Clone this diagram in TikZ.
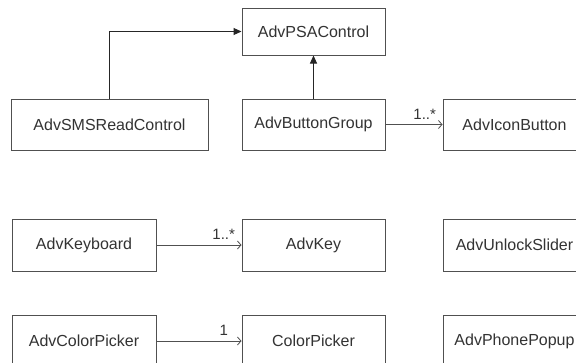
\documentclass[tikz,border=0pt]{standalone}
\usepackage{fontspec}
\setmainfont{Liberation Sans}
\usetikzlibrary{arrows.meta}
\definecolor{boxline}{HTML}{505050}
\definecolor{txt}{HTML}{333333}
\tikzset{
  cls/.style={draw=boxline, line width=1pt, rectangle, minimum width=143pt, minimum height=51pt,
    inner sep=0pt, text=txt, font=\fontsize{16pt}{18pt}\selectfont, anchor=center},
  gen/.style={draw=black!85, line width=1pt, -{Triangle[length=8pt,width=7pt]}},
  assoc/.style={draw=boxline, line width=1pt, -{Straight Barb[length=3.5pt,width=8pt,line width=0.8pt]}},
  mult/.style={text=txt, font=\fontsize{15pt}{17pt}\selectfont, inner sep=0pt, anchor=south east}
}
\begin{document}
\begin{tikzpicture}[x=1pt,y=1pt]
\useasboundingbox (0,0) rectangle (576,-362);
\clip (0,0) rectangle (576,-362);
\fill[white] (0,0) rectangle (576,-362);
\node[cls, minimum height=47pt] (psa) at (313.5,-31.5) {AdvPSAControl};
\node[cls, minimum width=197pt] (sms) at (109.5,-124.5) {AdvSMSReadControl};
\node[cls] (bg) at (313.5,-124.5) {AdvButtonGroup};
\node[cls] (icon) at (514.5,-124.5) {AdvIconButton};
\node[cls, minimum width=144pt, minimum height=52pt] (kbd) at (84,-245) {AdvKeyboard};
\node[cls, minimum height=52pt] (key) at (313.5,-245) {AdvKey};
\node[cls, minimum height=52pt] (slider) at (514.5,-245) {AdvUnlockSlider};
\node[cls, minimum width=144pt, minimum height=52pt] (acp) at (84,-341) {AdvColorPicker};
\node[cls, minimum height=52pt] (cp) at (313.5,-341) {ColorPicker};
\node[cls, minimum height=52pt] (phone) at (514.5,-341) {AdvPhonePopup};
\draw[gen] (sms.north) |- (psa.west);
\draw[gen] (bg.north) -- (psa.south);
\draw[assoc] (bg.east) -- (icon.west) node[mult, pos=1, xshift=-6pt, yshift=5pt] {1..*};
\draw[assoc] (kbd.east) -- (key.west) node[mult, pos=1, xshift=-6pt, yshift=5pt] {1..*};
\draw[assoc] (acp.east) -- (cp.west) node[mult, pos=1, xshift=-13pt, yshift=5pt] {1};
\end{tikzpicture}
\end{document}
